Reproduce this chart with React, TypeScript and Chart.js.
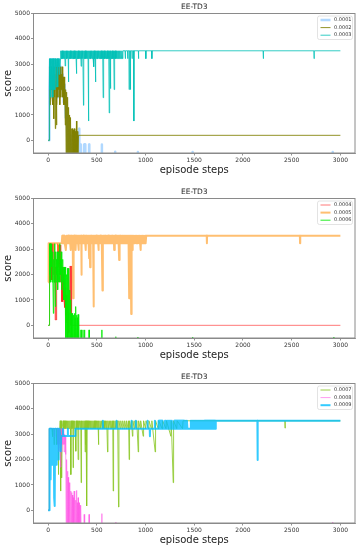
import { useEffect, useRef } from "react";
import { Chart, registerables } from "chart.js";
Chart.register(...registerables);

const FONT = '"DejaVu Sans", "Liberation Sans", sans-serif';
const panelTitle = "EE-TD3";
const xLabel = "episode steps";
const yLabel = "score";
const xTicks = [0, 500, 1000, 1500, 2000, 2500, 3000];
const yTicks = [0, 1000, 2000, 3000, 4000, 5000];
const xRange = [-150, 3150];
const yRange = [-500, 5000];

type P = [number, number][];

// ---------- panel 1 ----------
const lr0001: P = [
  [0,0],[10,0],[12,2000],[20,3200],[28,1700],[36,2900],[44,2000],[52,3200],[60,2600],[70,3200],[80,2000],[90,2900],[100,1700],[110,3200],[120,2300],[130,2900],[140,2000],[150,2600],[160,1500],[170,2200],[180,900],[190,1500],[200,-800],[210,400],[220,-900],[230,200],[240,-1000],[250,-300],[260,-1000],[270,-200],[280,-1000],[290,100],[300,-1000],[310,-400],[316,-1000],[318,460],[320,-1000],[335,-1000],[336,-160],[338,-1000],[368,-1000],[370,-160],[372,-1000],[378,-1000],[380,-160],[382,-1000],[419,-1000],[421,-160],[423,-1000],[549,-1000],[551,-160],[553,-1000],[687,-1000],[688,-450],[689,-1000],[920,-1000],[921,-460],[922,-1000],[1482,-1000],[1483,-460],[1484,-1000],[2920,-1000],[2921,-460],[2922,-1000],[3000,-1000]
];
const lr0002: P = [
  [0,0],[10,0],[12,1700],[16,2900],[20,1400],[25,2600],[30,2000],[35,2900],[40,1700],[45,2600],[50,1400],[55,2900],[58,850],[62,2300],[66,1700],[70,2600],[74,460],[78,2000],[82,2900],[86,600],[90,1400],[95,2600],[100,1700],[105,2900],[110,2000],[115,2600],[120,1400],[125,2900],[130,1700],[135,2600],[140,2000],[145,2900],[150,1700],[155,2500],[160,1400],[164,2500],[168,1400],[172,2300],[176,600],[180,2000],[185,-700],[190,1900],[195,-800],[200,1700],[205,-800],[210,1300],[215,-800],[220,1000],[225,-800],[230,900],[235,-800],[240,460],[245,-800],[250,460],[255,-800],[260,400],[265,-800],[270,460],[275,-800],[280,350],[285,-800],[291,760],[295,-800],[300,350],[305,-800],[312,200],[316,197],[3000,197]
];
const lr0003: P = [
  [0,0],[10,0],[12,1700],[15,3220],[18,2000],[22,3220],[26,1700],[30,2900],[34,3220],[38,2000],[42,3220],[46,2900],[50,1700],[54,3220],[58,2000],[62,2900],[66,3220],[70,2000],[74,3220],[78,2900],[82,2100],[86,3220],[90,2900],[94,3220],[98,2100],[102,3220],[106,2900],[110,3220],[114,2600],[118,3220],[122,2900],[126,3220],[130,3530],[134,3220],[138,3530],[142,3220],[146,3530],[150,3220],[154,3530],[158,3220],[162,3530],[166,3220],[170,3530],[175,2930],[180,3530],[184,3220],[188,3530],
  [190,3220],[194,3530],[198,3220],[202,3530],[206,3220],[209,2300],[212,3530],[216,3220],[220,3530],[224,3220],[228,3530],[232,3220],[236,3530],[240,3220],[244,3530],[248,3220],[252,3530],[256,3220],[260,3530],[264,3220],[268,3530],[272,3220],[276,3530],[280,3220],[284,3530],[287,3220],[291,2630],[294,3530],[298,3220],[302,3530],[306,3220],[310,3530],[314,3220],[318,3530],[322,3220],[326,3530],[330,3220],[334,3530],[339,2920],[342,3530],[346,3220],[350,3530],[354,3220],[358,3530],[363,1380],[366,3530],[370,3220],[374,3530],[378,3220],[382,3530],[386,3220],[390,3530],[394,3220],[398,3530],[402,3220],[406,3530],[410,3220],[414,760],[418,3530],[422,3220],[426,3530],[430,3220],[434,3530],[438,3220],[442,3530],[446,3220],[450,3530],[454,3220],[458,3530],[462,3220],[466,3530],[470,2900],[474,3530],[478,3220],[482,3530],[486,2300],[490,3530],[494,3220],[498,3530],[502,3220],[506,3530],[510,3220],[514,3530],[518,3220],[522,3530],[526,3220],[530,3530],[534,3220],[538,3530],[542,3220],[546,3530],[550,3220],[554,3530],[558,3220],[562,3530],[565,1680],[568,3530],[572,3220],[576,3530],[580,3220],[584,3530],[588,3220],[592,3530],[596,3220],[600,3530],[604,3220],[608,3530],[612,3220],[616,3530],[620,3220],[624,3530],[627,1080],[630,3530],[634,3220],[637,3530],[640,2040],[643,3530],[647,3220],[651,3530],[655,3220],[659,3530],[663,3220],[667,3530],[671,3220],[675,3530],[678,2000],[681,3530],[685,3220],[689,3530],[693,3220],[697,3530],[701,3220],[705,3530],[710,3220],[714,3530],[720,3220],[724,3530],[730,3220],[734,3530],[742,3220],[746,3530],[754,3220],[758,3530],[764,3220],[768,3530],[790,3530],[792,3220],[795,3530],[815,3530],[817,3220],[819,3530],[830,3530],[832,2000],[834,3530],[843,3530],[845,2000],[847,3530],[860,3530],[862,3220],[864,3530],[878,3530],[880,760],[882,3530],[926,3530],[928,3220],[930,3530],[1001,3530],[1003,3220],[1005,3530],[1063,3530],[1065,3220],[1067,3530],[2207,3530],[2209,3220],[2211,3530],[2728,3530],[2730,3220],[2732,3530],[3000,3530]
];

// ---------- panel 2 ----------
const lr0004: P = [
  [0,0],[10,0],[11,930],[14,3220],[18,1700],[22,3220],[27,1790],[31,2900],[35,1790],[40,3220],[45,1790],[50,2600],[55,2000],[60,3220],[65,1700],[70,2900],[72,210],[76,2300],[80,1700],[84,210],[88,2600],[92,2000],[96,3220],[100,1700],[104,2900],[106,3170],[110,2300],[114,3170],[118,2000],[123,3170],[128,1700],[132,2600],[136,2000],[140,930],[144,2300],[148,1700],[152,930],[156,2000],[160,1400],[164,930],[168,1800],[172,700],[176,1500],[180,400],[184,1200],[188,100],[192,900],[196,-300],[200,700],[204,-500],[208,500],[212,-300],[226,2340],[230,0],[234,2340],[238,0],[240,2340],[242,0],[3000,0]
];
const lr0005: P = [
  [0,1700],[5,3240],[60,3240],[62,2970],[64,3240],[100,3240],[102,2970],[104,3240],[140,3240],[145,3530],[150,3240],[155,3530],[160,3240],[165,3530],[170,3240],[182,2970],[186,3240],[190,3530],[194,3240],[199,3530],
  [203,3240],[207,3530],[211,3240],[215,3530],[219,3240],[223,3530],[227,3240],[231,3530],[233,2970],[236,3530],[240,3240],[244,3530],[248,3240],[252,3530],[257,1070],[260,3530],[264,3240],[268,3530],[272,3240],[276,3530],[280,3240],[284,2970],[288,3530],[292,3240],[296,3530],[300,3240],[304,3530],[308,3240],[312,2970],[316,3530],[320,3240],[324,3530],[328,3240],[332,3530],[336,3240],[340,3530],[342,1990],[345,3530],[349,3240],[353,3530],[357,3240],[361,3530],[365,3240],[369,3530],[373,3240],[377,3530],[381,3240],[385,3530],[387,2970],[390,3530],[394,3240],[398,3530],[402,3240],[406,3530],[410,3240],[414,3530],[418,3240],[421,2650],[424,3530],[428,3240],[431,2290],[434,3530],[438,3240],[442,3530],[446,3240],[450,3530],[454,3240],[458,3530],[462,3240],[466,740],[470,3530],[474,3240],[478,3530],[482,3240],[486,3530],[490,3240],[494,3530],[498,3240],[502,3530],[506,3240],[510,3530],[514,3240],[517,2970],[520,3530],[524,3240],[528,3530],[532,3240],[536,3530],[540,3240],[544,3530],[548,3240],[552,3530],[558,1370],[562,3530],[566,3240],[570,3530],[574,3240],[578,3530],[582,3240],[586,3530],[590,3240],[594,3530],[598,3240],[602,3530],[606,3240],[610,3530],[614,3240],[618,3530],[622,3240],[626,3530],[630,3240],[634,3530],[638,3240],[642,3530],[646,3240],[650,3530],[654,3240],[658,3530],[662,3240],[666,3530],[670,3240],[674,3530],[678,2970],[682,3530],[686,3240],[690,3530],[694,3240],[698,3530],[702,3240],[706,3530],[710,3240],[714,3530],[718,3240],[722,3530],[726,3240],[729,2580],[732,3530],[736,3240],[740,3530],[744,3240],[748,3530],[752,3240],[756,3530],[760,3240],[764,3530],[770,3240],[774,3530],[780,3240],[784,3530],[790,3240],[794,3530],[800,3240],[804,3530],[810,3240],[814,3530],[820,3240],[824,3530],[828,3240],[832,1070],[836,3530],[839,3240],[842,2290],[845,3530],[849,3240],[853,450],[857,3530],[862,3240],[866,2970],[870,3530],[876,3240],[880,3530],[890,3240],[894,3530],[905,3240],[909,3530],[920,3240],[924,3530],[935,3240],[939,3530],[950,2970],[954,3530],[965,3240],[969,3530],[980,3240],[984,3530],[995,3240],[999,3530],[1003,3240],[1007,3530],[1628,3530],[1630,3240],[1632,3530],[2584,3530],[2586,3240],[2588,3530],[3000,3530]
];
const lr0006: P = [
  [0,0],[10,0],[12,1700],[15,3220],[18,2000],[22,3220],[26,1700],[30,2900],[34,2300],[38,3220],[42,1700],[46,2900],[50,2000],[54,470],[58,2600],[62,1700],[66,3220],[70,2000],[74,740],[78,2900],[82,1700],[86,2600],[90,2000],[94,2900],[98,1400],[102,2600],[106,1700],[110,2900],[114,2000],[118,3220],[122,1700],[126,2600],[130,2000],[134,2900],[138,1400],[142,2300],[146,1700],[150,2600],[154,1400],[158,2300],[162,1000],[166,2300],[170,1000],[174,2300],[178,-700],[182,2290],[186,-800],[190,2000],[194,-800],[198,2250],[202,-800],[206,2250],[210,-800],[214,1790],[218,-800],[222,1390],[226,-800],[230,1000],[234,-800],[238,470],[242,-800],[246,470],[250,-800],[254,470],[258,-800],[262,400],[266,-800],[270,470],[274,-800],[278,300],[282,-800],[284,740],[287,-800],[292,400],[296,-800],[300,300],[304,-800],[308,430],[312,-900],[316,200],[320,-1000],[336,-1000],[338,-180],[340,-1000],[356,-1000],[358,-180],[360,-1000],[372,-1000],[374,-180],[376,-1000],[419,-1000],[421,-180],[423,-1000],[549,-1000],[551,-180],[553,-1000],[693,-1000],[695,-450],[697,-1000],[920,-1000],[921,-460],[922,-1000],[1481,-1000],[1483,-460],[1485,-1000],[2931,-1000],[2933,-460],[2935,-1000],[3000,-1000]
];

// ---------- panel 3 ----------
const lr0007: P = [
  [0,0],[10,0],[12,3220],[40,3220],[44,2900],[48,3220],[60,3220],[62,2590],[64,3220],[84,3220],[86,2590],[88,3220],[104,3220],[106,1410],[108,3220],[120,3220],[124,3530],[127,3220],[130,760],[133,3530],[137,3220],[140,1280],[143,3220],[150,3220],[154,3530],[158,3220],[165,3530],[170,3220],[176,3530],[182,3220],[188,3530],[194,3220],[200,3530],[206,3220],[212,3530],[218,3220],[224,3530],[230,3220],[233,1410],[236,3530],[242,3220],[248,3530],[254,3220],[257,1680],[260,3530],[266,3220],[272,3530],[278,3220],[284,2330],[287,3530],[293,3220],[299,3530],[305,3220],[308,2000],[311,3530],[317,3220],[323,3530],[329,3220],[335,3530],[339,1090],[343,3530],[349,3220],[355,3530],[361,3220],[367,3530],[373,3220],[377,3530],[380,2300],[383,3530],[387,2590],[390,3530],[394,3220],[397,170],[400,3530],[406,3220],[412,3530],[418,3220],[424,3530],[430,3220],[436,3530],[442,3220],[448,3530],[454,3220],[460,3530],[466,3220],[472,3530],[478,3220],[484,3530],[490,3220],[496,3530],[502,3220],[508,3530],[514,3220],[517,2590],[520,3530],[526,3220],[532,3530],[540,3220],[546,3530],[554,3220],[560,3530],[568,3220],[574,3530],[582,3220],[588,3530],[596,3220],[602,3530],[610,2300],[614,3530],[622,3220],[628,3530],[636,3220],[642,3530],[650,3220],[656,3530],[664,3220],[668,760],[672,3530],[680,3220],[686,3530],[694,3220],[700,3530],[708,3220],[714,3530],[723,130],[727,3530],[740,3220],[746,3530],[760,3220],[766,3530],[780,3220],[786,3530],[800,3220],[806,3530],[820,3220],[826,3530],[832,2000],[836,3530],[850,3220],[856,3530],[866,2920],[870,3530],[885,3220],[890,3530],[905,3220],[910,3530],[925,2300],[929,3530],[945,3220],[950,3530],[976,2920],[980,3530],[1000,3220],[1005,3530],[1030,3220],[1035,3530],[1060,3220],[1065,3530],[1099,2300],[1103,3530],[1130,3220],[1135,3530],[1170,3220],[1175,3530],[1210,3220],[1215,3530],[1260,2920],[1264,3530],[1284,1090],[1288,3530],[1320,3220],[1325,3530],[1380,3220],[1385,3530],[2430,3530],[2432,3240],[2434,3530],[3000,3530]
];
const lr0008: P = [
  [0,0],[10,0],[12,3220],[60,3220],[64,2900],[68,3220],[95,3220],[98,2600],[102,3220],[108,2300],[112,3220],[118,2600],[122,3220],[128,1700],[132,3220],[138,2300],[142,3220],[146,2600],[150,3220],[155,2600],[160,3220],[164,2300],[168,3000],[172,2600],[176,2900],[181,2200],[185,-600],[190,2000],[194,-700],[199,1540],[203,-800],[207,1300],[211,-800],[216,1090],[220,-800],[224,900],[228,-800],[233,760],[237,-800],[241,700],[245,-800],[250,600],[254,-800],[258,500],[262,-800],[267,760],[271,-800],[275,500],[279,-800],[283,400],[287,-800],[291,785],[295,-800],[300,300],[304,-800],[308,500],[312,-800],[318,300],[322,-800],[328,200],[332,-800],[336,130],[340,-1000],[368,-1000],[370,-160],[372,-1000],[376,-160],[378,-1000],[419,-1000],[421,-160],[423,-1000],[549,-1000],[551,-130],[553,-1000],[694,-1000],[695,-460],[696,-1000],[2920,-1000],[2921,-460],[2922,-1000],[3000,-1000]
];
const lr0009: P = [
  [0,0],[10,0],[12,2600],[15,3220],[17,500],[20,3220],[24,1800],[27,1220],[30,3220],[34,2300],[38,3220],[42,1800],[45,2920],[50,3220],[54,2000],[58,3220],[62,500],[66,2600],[69,170],[72,3220],[76,2300],[80,3220],[84,1800],[88,2900],[92,3220],[96,2920],[100,3220],[104,2000],[108,3220],[113,2700],[116,2930],[120,3220],[124,2930],[130,2330],[134,2930],[150,2930],[152,3220],[154,2930],[200,2930],[202,3220],[204,2930],[277,2930],[280,3220],[560,3220],[562,3530],[564,3220],[700,3220],[702,3530],[704,3220],[854,3220],[856,3530],[858,3220],[898,3220],[900,3530],[902,3220],[1018,3220],[1020,3530],[1022,3220],[1043,3220],[1045,2920],[1047,3220],[1094,3220],[1096,3530],[1098,3220],[1131,3220],[1133,3530],[1135,3220],
  [1140,3530],[1145,3220],[1150,3530],[1155,3220],[1160,3530],[1165,3220],[1170,3530],[1175,3220],[1195,3220],[1200,3530],[1205,3220],[1210,3530],[1215,3220],[1220,3530],[1225,3220],[1230,3530],[1235,3220],[1240,3530],[1245,3220],[1250,3530],[1255,3220],[1260,3530],[1265,3220],[1270,3530],[1275,3220],[1290,3220],[1295,3530],[1300,3220],[1305,3530],[1310,3220],[1315,3530],[1320,3220],[1325,3530],[1330,3220],[1335,3530],[1340,3220],[1345,3530],[1350,3220],[1355,3530],[1360,3220],[1365,3530],[1370,3220],[1375,3530],[1380,3220],[1385,3530],[1390,3220],[1395,3530],[1400,3220],[1405,3530],[1410,3220],[1415,3530],[1420,3220],[1425,3530],[1430,3220],[1460,3220],[1465,3530],[1470,3220],[1475,3530],[1480,3220],[1485,3530],[1490,3220],[1495,3530],[1500,3220],[1505,3530],[1510,3220],[1515,3530],[1520,3220],[1525,3530],[1530,3220],[1535,3530],[1540,3220],[1545,3530],[1550,3220],[1555,3530],[1560,3220],[1565,3530],[1570,3220],[1575,3530],[1580,3220],[1585,3530],[1590,3220],[1595,3530],[1600,3220],[1605,3530],[1610,3220],[1615,3530],[1620,3220],[1625,3530],[1630,3220],[1635,3530],[1640,3220],[1645,3530],[1650,3220],[1655,3530],[1660,3220],[1665,3530],[1670,3220],[1675,3530],[1680,3220],[1685,3530],[1690,3220],[1695,3530],[1700,3220],[1705,3530],[1710,3220],[1715,3530],[1720,3220],[1722,3530],[2148,3530],[2150,1980],[2152,3530],[3000,3530]
];

type Series = { label: string; points: P; color: string; width: number };

const panels: Series[][] = [
  [
    { label: "0.0001", points: lr0001, color: "rgba(30,144,255,0.35)", width: 2.5 },
    { label: "0.0002", points: lr0002, color: "rgba(128,128,0,0.85)", width: 1 },
    { label: "0.0003", points: lr0003, color: "rgba(0,192,182,0.8)", width: 1 },
  ],
  [
    { label: "0.0004", points: lr0004, color: "rgba(255,30,30,0.6)", width: 1 },
    { label: "0.0005", points: lr0005, color: "rgba(255,145,10,0.58)", width: 2 },
    { label: "0.0006", points: lr0006, color: "rgba(0,235,0,0.85)", width: 1 },
  ],
  [
    { label: "0.0007", points: lr0007, color: "rgba(140,200,40,0.85)", width: 1 },
    { label: "0.0008", points: lr0008, color: "rgba(255,90,230,0.6)", width: 1 },
    { label: "0.0009", points: lr0009, color: "rgba(0,190,255,0.8)", width: 2 },
  ],
];

const decor = {
  id: "decor",
  afterDatasetsDraw(chart: any) {
    const { ctx, chartArea: a } = chart;
    ctx.save();
    ctx.strokeStyle = "#8a8a8a";
    ctx.lineWidth = 1;
    ctx.strokeRect(a.left, a.top, a.right - a.left, a.bottom - a.top);
    // legend
    const bx = 317.5, by = a.top + 2.5, bw = 35, bh = 23.5;
    ctx.fillStyle = "rgba(255,255,255,0.85)";
    ctx.strokeStyle = "#dcdcdc";
    ctx.lineWidth = 0.8;
    ctx.beginPath();
    (ctx as any).roundRect(bx, by, bw, bh, 2);
    ctx.fill();
    ctx.stroke();
    ctx.font = `5px ${FONT}`;
    ctx.textBaseline = "middle";
    ctx.textAlign = "left";
    chart.data.datasets.forEach((d: any, i: number) => {
      const y = by + 4 + i * 7.6;
      ctx.strokeStyle = d.borderColor;
      ctx.lineWidth = d.borderWidth;
      ctx.beginPath();
      ctx.moveTo(bx + 3, y);
      ctx.lineTo(bx + 13, y);
      ctx.stroke();
      ctx.fillStyle = "#333";
      ctx.fillText(d.label, bx + 16.5, y);
    });
    ctx.restore();
  },
  afterDraw(chart: any) {
    const { ctx, chartArea: a } = chart;
    ctx.save();
    ctx.fillStyle = "#222";
    ctx.textAlign = "center";
    ctx.textBaseline = "middle";
    ctx.font = `7.5px ${FONT}`;
    ctx.fillText(panelTitle, (a.left + a.right) / 2, 7.5);
    ctx.font = `10px ${FONT}`;
    ctx.fillText(xLabel, (a.left + a.right) / 2, 170);
    ctx.translate(8.5, (a.top + a.bottom) / 2);
    ctx.rotate(-Math.PI / 2);
    ctx.fillText(yLabel, 0, 0);
    ctx.restore();
  },
};

function Panel({ series, top }: { series: Series[]; top: number }) {
  const ref = useRef<HTMLCanvasElement>(null);
  useEffect(() => {
    const n = series.length;
    const chart = new Chart(ref.current!, {
      type: "line",
      data: {
        datasets: series.map((s, i) => ({
          label: s.label,
          data: s.points.map(([x, y]) => ({ x, y })),
          borderColor: s.color,
          borderWidth: s.width,
          pointRadius: 0,
          tension: 0,
          fill: false,
          clip: 0,
          borderJoinStyle: "round",
          order: n - i,
        })),
      },
      options: {
        animation: false,
        responsive: false,
        events: [],
        layout: { padding: { left: 0, right: 6, top: 13.5, bottom: 0 } },
        plugins: { legend: { display: false }, tooltip: { enabled: false }, title: { display: false } },
        scales: {
          x: {
            type: "linear",
            min: xRange[0],
            max: xRange[1],
            afterBuildTicks: (s: any) => { s.ticks = xTicks.map((v) => ({ value: v })); },
            afterFit: (s: any) => { s.height = 27; },
            ticks: { font: { size: 6, family: FONT }, color: "#333", padding: 1, maxRotation: 0, autoSkip: false, callback: (v: any) => String(v) },
            grid: { drawOnChartArea: false, drawTicks: true, tickLength: 2.5, color: "#666", lineWidth: 0.7 },
            border: { display: true, color: "#8a8a8a", width: 1 },
          },
          y: {
            type: "linear",
            min: yRange[0],
            max: yRange[1],
            afterBuildTicks: (s: any) => { s.ticks = yTicks.map((v) => ({ value: v })); },
            afterFit: (s: any) => { s.width = 33.5; },
            ticks: { font: { size: 6, family: FONT }, color: "#333", padding: 1, autoSkip: false, callback: (v: any) => String(v) },
            grid: { drawOnChartArea: false, drawTicks: true, tickLength: 2.5, color: "#666", lineWidth: 0.7 },
            border: { display: true, color: "#8a8a8a", width: 1 },
          },
        },
      } as any,
      plugins: [decor],
    });
    return () => chart.destroy();
  }, [series]);
  return (
    <canvas
      ref={ref}
      width={361}
      height={180}
      style={{ position: "absolute", left: 0, top, width: 361, height: 180, display: "block" }}
    />
  );
}

export default function App() {
  return (
    <div style={{ position: "absolute", left: 0, top: 0, width: 361, height: 550, background: "#fff", overflow: "hidden" }}>
      <Panel series={panels[0]} top={0} />
      <Panel series={panels[1]} top={185} />
      <Panel series={panels[2]} top={370} />
    </div>
  );
}
